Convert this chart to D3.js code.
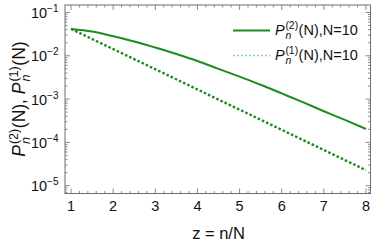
<!DOCTYPE html>
<html>
<head>
<meta charset="utf-8">
<script src="https://cdn.jsdelivr.net/npm/d3@7"></script>
<style>
  body { margin: 0; background: #fff; }
  svg { display: block; font-family: "Liberation Sans", Arial, sans-serif; }
</style>
</head>
<body>
<div id="chart"></div>
<script>
// values (log-scale y)
const zSolid = [1, 1.5, 2, 2.5, 3, 3.5, 4, 4.5, 5, 5.5, 6, 6.5, 7, 7.5, 8];
const p2 = [0.0417, 0.0363, 0.0282, 0.0214, 0.0155, 0.011, 0.0076, 0.0050, 0.0033, 0.00214,
            0.00135, 0.00085, 0.000525, 0.00033, 0.000204];
const zDotted = [1, 2, 3, 4, 5, 6, 7, 8];
const p1 = [0.0417, 0.0143, 0.0049, 0.00167, 0.00057, 0.000195, 0.0000667, 0.0000228];
const xTicks = [1, 2, 3, 4, 5, 6, 7, 8];
const yExps = [-1, -2, -3, -4, -5];

const width = 374, height = 242;
const margin = { top: 5, right: 3.5, bottom: 48.5, left: 65 };
const green = "#1e8c1e";
const frame = "#6e6e6e";

const svg = d3.select("#chart").append("svg")
  .attr("width", width).attr("height", height);

const x = d3.scaleLinear()
  .domain([0.857, 8.107])
  .range([margin.left, width - margin.right]);

const y = d3.scaleLog()
  .domain([6.6e-6, 0.149])
  .range([height - margin.bottom, margin.top]);

// frame with inward ticks on all sides
const minorX = d3.range(0.2, 8.2, 0.2).map(v => +v.toFixed(1)).filter(v => v >= 0.857 && v <= 8.107);
const minorY = [];
for (let e = -6; e <= -1; e++) for (let k = 1; k < 10; k++) {
  const v = k * Math.pow(10, e);
  if (v >= 6.6e-6 && v <= 0.149) minorY.push(v);
}

const fr = svg.append("g").attr("stroke", frame).attr("stroke-width", 0.8);
const x0 = margin.left, x1 = width - margin.right, y0 = height - margin.bottom, y1 = margin.top;

minorX.forEach(v => {
  const L = Math.abs(v - Math.round(v)) < 1e-6 ? 5 : 2.5;
  fr.append("line").attr("x1", x(v)).attr("x2", x(v)).attr("y1", y0).attr("y2", y0 - L);
  fr.append("line").attr("x1", x(v)).attr("x2", x(v)).attr("y1", y1).attr("y2", y1 + L);
});
minorY.forEach(v => {
  const L = Math.abs(Math.log10(v) - Math.round(Math.log10(v))) < 1e-6 ? 5 : 2.5;
  fr.append("line").attr("y1", y(v)).attr("y2", y(v)).attr("x1", x0).attr("x2", x0 + L);
  fr.append("line").attr("y1", y(v)).attr("y2", y(v)).attr("x1", x1).attr("x2", x1 - L);
});
fr.append("rect").attr("x", x0).attr("y", y1).attr("width", x1 - x0).attr("height", y0 - y1)
  .attr("fill", "none").attr("stroke-width", 1);

// tick labels
svg.append("g").selectAll("text").data(xTicks).join("text")
  .attr("x", d => x(d)).attr("y", 210.5)
  .attr("text-anchor", "middle").attr("font-size", 14.5).attr("fill", "#111")
  .text(d => d);

const yl = svg.append("g").selectAll("text").data(yExps).join("text")
  .attr("x", 58.5).attr("y", d => y(Math.pow(10, d)) + 5.5)
  .attr("text-anchor", "end").attr("font-size", 14.5).attr("fill", "#111");
yl.append("tspan").text("10");
yl.append("tspan").attr("font-size", 10).attr("dy", -6).text(d => "\u2212" + (-d));

// lines
const line = d3.line().x(d => x(d[0])).y(d => y(d[1])).curve(d3.curveMonotoneX);
svg.append("path").datum(zSolid.map((z, i) => [z, p2[i]]))
  .attr("d", line).attr("fill", "none").attr("stroke", green).attr("stroke-width", 2);
svg.append("path").datum(zDotted.map((z, i) => [z, p1[i]]))
  .attr("d", line).attr("fill", "none").attr("stroke", green).attr("stroke-width", 2.4)
  .attr("stroke-dasharray", "2.6 2");

// one text: P_n^(k)rest, P_n^(k)rest ...
function pText(g, parts, size) {
  const t = g.append("text").attr("font-size", size);
  let cx = 0;
  parts.forEach(p => {
    const P = t.append("tspan").attr("x", cx).attr("y", 0).attr("font-style", "italic").text("P");
    cx += P.node().getComputedTextLength() + size * 0.05;
    const s = t.append("tspan").attr("x", cx).attr("y", -size * 0.4)
      .attr("font-size", size * 0.72).text(p.sup);
    const n = t.append("tspan").attr("x", cx).attr("y", size * 0.28)
      .attr("font-size", size * 0.72).attr("font-style", "italic").text("n");
    cx += Math.max(s.node().getComputedTextLength(), n.node().getComputedTextLength()) + size * 0.03;
    const r = t.append("tspan").attr("x", cx).attr("y", 0).text(p.rest);
    cx += r.node().getComputedTextLength();
  });
  return cx;
}

// legend
const legend = [
  { sup: "(2)", dash: null, w: 2, color: green },
  { sup: "(1)", dash: "2 2", w: 1.6, color: "#8fd08f" }
];
legend.forEach((d, i) => {
  const ly = 30.5 + i * 25;
  svg.append("line").attr("x1", 233).attr("x2", 270).attr("y1", ly).attr("y2", ly)
    .attr("stroke", d.color).attr("stroke-width", d.w)
    .attr("stroke-dasharray", d.dash);
  const g = svg.append("g").attr("transform", `translate(275,${ly + 4})`).attr("fill", "#111");
  pText(g, [{ sup: d.sup, rest: "(N),N=10" }], 14.5);
});

// axis titles
svg.append("text").attr("x", x(4.5)).attr("y", 238.5).attr("text-anchor", "middle")
  .attr("font-size", 16.5).attr("fill", "#111").text("z = n/N");

const yt = svg.append("g").attr("fill", "#111");
const w = pText(yt.append("g"), [{ sup: "(2)", rest: "(N),\u00a0" }, { sup: "(1)", rest: "(N)" }], 17.5);
yt.attr("transform", `translate(25,99) rotate(-90) translate(${-w / 2},0)`);
</script>
</body>
</html>
